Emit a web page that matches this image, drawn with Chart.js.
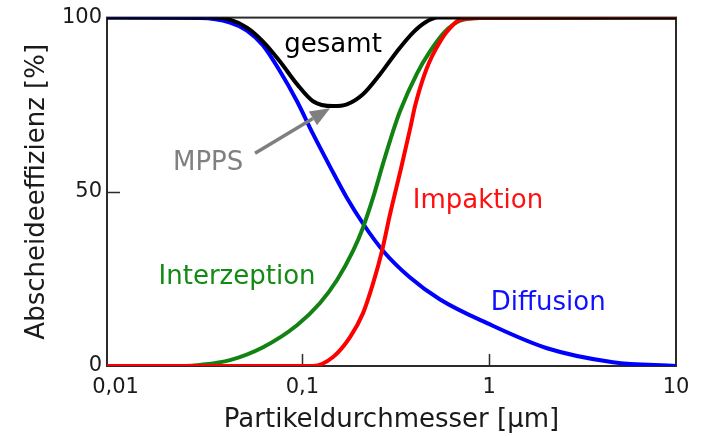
<!DOCTYPE html>
<html>
<head>
<meta charset="utf-8">
<script src="https://cdn.jsdelivr.net/npm/chart.js@4.4.1/dist/chart.umd.min.js"></script>
<style>
  html, body { margin: 0; padding: 0; background: #fff; }
</style>
</head>
<body>
<canvas id="chart" width="709" height="436"></canvas>
<script>
// particle diameter [µm] and separation efficiency [%], one pair of arrays per mechanism
const diffusionD = [0.009, 0.0283, 0.041, 0.0505, 0.0616, 0.0759, 0.0936, 0.114, 0.141, 0.173,
                    0.211, 0.270, 0.377, 0.546, 0.974, 2.04, 4.6, 10];
const diffusionE = [100, 99.9, 98.6, 96.3, 92.0, 84.6, 76.0, 66.6, 57.1, 48.3,
                    40.9, 33.1, 25.4, 19.1, 12.3, 5.1, 1.1, 0];

const interceptionD = [0.009, 0.0235, 0.0283, 0.041, 0.0616, 0.0936, 0.124, 0.153, 0.187, 0.211,
                       0.239, 0.270, 0.306, 0.333, 0.411, 0.482, 0.580, 0.698, 0.893, 10];
const interceptionE = [0, 0, 0.3, 1.7, 5.4, 11.7, 18.0, 24.6, 33.1, 39.7,
                       48.3, 58.0, 67.4, 73.1, 84.0, 90.3, 96.0, 99.1, 99.9, 100];

const impactionD = [0.009, 0.114, 0.146, 0.180, 0.211, 0.239, 0.267, 0.295, 0.337, 0.377,
                    0.401, 0.426, 0.459, 0.494, 0.546, 0.595, 0.698, 0.893, 10];
const impactionE = [0, 0, 2.6, 8.3, 15.1, 23.7, 33.1, 43.7, 56.6, 68.0,
                    74.6, 79.7, 84.9, 88.9, 93.1, 96.0, 99.4, 99.9, 100];

const totalD = [0.009, 0.0332, 0.041, 0.0505, 0.0616, 0.0759, 0.0936, 0.114, 0.146, 0.173,
                0.211, 0.260, 0.321, 0.391, 0.454, 0.53, 10];
const totalE = [100, 100, 99.4, 97.1, 93.1, 87.4, 80.9, 76.0, 74.6, 75.1,
                78.0, 83.7, 90.3, 95.7, 98.6, 100, 100];

const xTicks = [0.01, 0.1, 1, 10];
const xTickLabels = ['0,01', '0,1', '1', '10'];
const yTicks = [0, 50, 100];

const FONT = '"DejaVu Sans", sans-serif';

/* =============================
   ANNOTATIONS (data coords)
============================= */
const labels = [
    { text: 'gesamt',       x: 0.146,  y: 92,   color: '#000000' },
    { text: 'MPPS',         x: 0.0313, y: 58.3, color: '#808080' },
    { text: 'Interzeption', x: 0.0447, y: 25.4, color: '#138a13' },
    { text: 'Impaktion',    x: 0.871,  y: 47.4, color: '#ff1010' },
    { text: 'Diffusion',    x: 2.07,   y: 18,   color: '#1010ff' }
];
const mppsArrow = { from: [0.0558, 61.1], to: [0.1407, 74] };

function toPoints(xs, ys) {
    return xs.map((d, i) => ({ x: d, y: ys[i] }));
}

function series(label, xs, ys, color) {
    return {
        label,
        data: toPoints(xs, ys),
        borderColor: color,
        backgroundColor: color,
        borderWidth: 4,
        pointRadius: 0,
        cubicInterpolationMode: 'monotone',
        fill: false
    };
}

const framePlugin = {
    id: 'frame',
    beforeDatasetsDraw(chart) {
        const { ctx, chartArea: a, scales: { x, y } } = chart;
        ctx.save();
        ctx.strokeStyle = '#2b2b2b';
        ctx.lineWidth = 2;
        ctx.strokeRect(a.left, a.top, a.right - a.left, a.bottom - a.top);

        // inner tick marks
        ctx.lineWidth = 1.5;
        ctx.beginPath();
        xTicks.slice(1, -1).forEach(v => {
            const px = Math.round(x.getPixelForValue(v)) + 0.5;
            ctx.moveTo(px, a.bottom);
            ctx.lineTo(px, a.bottom - 12);
        });
        yTicks.slice(1, -1).forEach(v => {
            const py = Math.round(y.getPixelForValue(v)) + 0.5;
            ctx.moveTo(a.left, py);
            ctx.lineTo(a.left + 13, py);
        });
        ctx.stroke();
        ctx.restore();
    },
    afterDatasetsDraw(chart) {
        const { ctx, scales: { x, y } } = chart;
        ctx.save();

        // MPPS arrow
        const x0 = x.getPixelForValue(mppsArrow.from[0]), y0 = y.getPixelForValue(mppsArrow.from[1]);
        const x1 = x.getPixelForValue(mppsArrow.to[0]),   y1 = y.getPixelForValue(mppsArrow.to[1]);
        const ang = Math.atan2(y1 - y0, x1 - x0);
        const head = 20, wing = 8;
        const bx = x1 - head * Math.cos(ang), by = y1 - head * Math.sin(ang);
        ctx.strokeStyle = '#7f7f7f';
        ctx.fillStyle = '#7f7f7f';
        ctx.lineWidth = 3.5;
        ctx.beginPath();
        ctx.moveTo(x0, y0);
        ctx.lineTo(bx, by);
        ctx.stroke();
        ctx.beginPath();
        ctx.moveTo(x1, y1);
        ctx.lineTo(bx + wing * Math.sin(ang), by - wing * Math.cos(ang));
        ctx.lineTo(bx - wing * Math.sin(ang), by + wing * Math.cos(ang));
        ctx.closePath();
        ctx.fill();

        // series labels
        ctx.font = `26px ${FONT}`;
        ctx.textAlign = 'center';
        ctx.textBaseline = 'middle';
        labels.forEach(l => {
            ctx.fillStyle = l.color;
            ctx.fillText(l.text, x.getPixelForValue(l.x), y.getPixelForValue(l.y));
        });
        ctx.restore();
    }
};

new Chart(document.getElementById('chart'), {
    type: 'line',
    data: {
        datasets: [
            series('gesamt', totalD, totalE, '#000000'),
            series('Impaktion', impactionD, impactionE, '#ff0000'),
            series('Interzeption', interceptionD, interceptionE, '#128212'),
            series('Diffusion', diffusionD, diffusionE, '#0000ff')
        ]
    },
    options: {
        responsive: false,
        animation: false,
        layout: { padding: { top: 16, right: 33, left: 0, bottom: 0 } },
        plugins: { legend: { display: false }, tooltip: { enabled: false } },
        scales: {
            x: {
                type: 'logarithmic',
                min: 0.009,
                max: 10,
                afterBuildTicks: s => { s.ticks = xTicks.map(v => ({ value: v })); },
                afterFit: s => { s.height = 70; },
                grid: { display: false, drawTicks: false },
                border: { display: false },
                ticks: {
                    callback: (v, i) => xTickLabels[i],
                    autoSkip: false,
                    maxRotation: 0,
                    padding: 9,
                    color: '#1a1a1a',
                    font: { family: FONT, size: 21 }
                },
                title: {
                    display: true,
                    text: 'Partikeldurchmesser [µm]',
                    color: '#1a1a1a',
                    font: { family: FONT, size: 26 },
                    padding: { top: 0, bottom: 0 }
                }
            },
            y: {
                min: 0,
                max: 100,
                afterBuildTicks: s => { s.ticks = yTicks.map(v => ({ value: v })); },
                afterFit: s => { s.width = 107; },
                grid: { display: false, drawTicks: false },
                border: { display: false },
                ticks: {
                    padding: 5,
                    color: '#1a1a1a',
                    font: { family: FONT, size: 21 }
                },
                title: {
                    display: true,
                    text: 'Abscheideeffizienz [%]',
                    color: '#1a1a1a',
                    font: { family: FONT, size: 26 },
                    padding: { top: 22, bottom: 0 }
                }
            }
        }
    },
    plugins: [framePlugin]
});
</script>
</body>
</html>
